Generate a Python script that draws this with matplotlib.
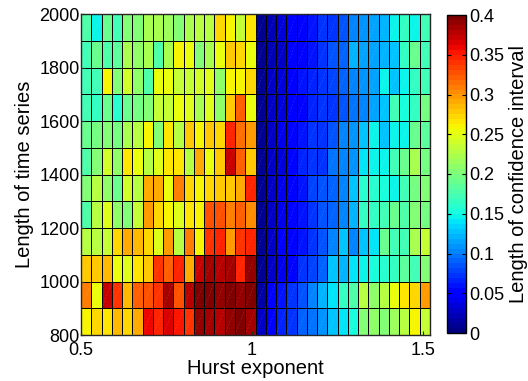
import numpy as np
import matplotlib
matplotlib.use("Agg")
import matplotlib.pyplot as plt
from matplotlib.collections import LineCollection

plt.rcParams['font.family'] = ['Liberation Sans', 'DejaVu Sans']

# Grid: Hurst exponent cell edges and series-length cell edges
hurst_edges = np.round(np.linspace(0.5, 1.52, 35), 2)
length_edges = np.arange(800, 2001, 100)

# Length of confidence interval, one row per series length (lower edge of the row)
ci_800 = [0.26, 0.27, 0.265, 0.285, 0.27, 0.29, 0.36, 0.345, 0.365, 0.355, 0.34, 0.39, 0.385, 0.38, 0.39, 0.395, 0.385,
          0.025, 0.045, 0.065, 0.07, 0.09, 0.095, 0.11, 0.125, 0.14, 0.155, 0.20, 0.21, 0.20, 0.215, 0.225, 0.26, 0.235]
ci_900 = [0.31, 0.25, 0.37, 0.34, 0.285, 0.32, 0.33, 0.34, 0.385, 0.325, 0.38, 0.395, 0.395, 0.39, 0.395, 0.39, 0.395,
          0.015, 0.045, 0.06, 0.07, 0.085, 0.10, 0.12, 0.14, 0.165, 0.18, 0.23, 0.21, 0.23, 0.25, 0.265, 0.27, 0.30]
ci_1000 = [0.275, 0.28, 0.285, 0.25, 0.245, 0.265, 0.275, 0.34, 0.32, 0.35, 0.29, 0.37, 0.385, 0.38, 0.385, 0.35, 0.39,
           0.01, 0.025, 0.04, 0.055, 0.07, 0.08, 0.09, 0.13, 0.12, 0.14, 0.15, 0.155, 0.16, 0.165, 0.185, 0.175, 0.20]
ci_1100 = [0.225, 0.23, 0.235, 0.27, 0.29, 0.285, 0.27, 0.245, 0.295, 0.23, 0.31, 0.26, 0.34, 0.345, 0.295, 0.34, 0.35,
           0.01, 0.025, 0.045, 0.05, 0.06, 0.075, 0.085, 0.105, 0.13, 0.10, 0.13, 0.14, 0.19, 0.175, 0.17, 0.22, 0.235]
ci_1200 = [0.18, 0.23, 0.245, 0.21, 0.205, 0.235, 0.30, 0.27, 0.26, 0.245, 0.265, 0.26, 0.33, 0.33, 0.31, 0.32, 0.305,
           0.01, 0.025, 0.04, 0.05, 0.06, 0.075, 0.085, 0.09, 0.10, 0.12, 0.165, 0.165, 0.17, 0.19, 0.18, 0.20, 0.195]
ci_1300 = [0.20, 0.225, 0.21, 0.19, 0.24, 0.23, 0.29, 0.29, 0.25, 0.31, 0.27, 0.26, 0.27, 0.275, 0.28, 0.29, 0.345,
           0.01, 0.025, 0.04, 0.05, 0.06, 0.08, 0.085, 0.09, 0.10, 0.125, 0.16, 0.16, 0.155, 0.145, 0.17, 0.195, 0.20]
ci_1400 = [0.18, 0.20, 0.24, 0.21, 0.265, 0.25, 0.23, 0.245, 0.265, 0.265, 0.225, 0.29, 0.25, 0.275, 0.37, 0.32, 0.28,
           0.01, 0.03, 0.035, 0.055, 0.065, 0.07, 0.07, 0.095, 0.10, 0.11, 0.14, 0.15, 0.15, 0.17, 0.19, 0.22, 0.195]
ci_1500 = [0.19, 0.195, 0.20, 0.195, 0.22, 0.225, 0.26, 0.20, 0.265, 0.23, 0.275, 0.26, 0.28, 0.27, 0.35, 0.315, 0.30,
           0.01, 0.025, 0.04, 0.055, 0.06, 0.07, 0.075, 0.085, 0.10, 0.11, 0.125, 0.145, 0.125, 0.15, 0.145, 0.19, 0.185]
ci_1600 = [0.17, 0.165, 0.19, 0.16, 0.19, 0.195, 0.205, 0.235, 0.235, 0.25, 0.245, 0.22, 0.245, 0.21, 0.28, 0.32, 0.25,
           0.01, 0.025, 0.035, 0.045, 0.055, 0.065, 0.07, 0.075, 0.085, 0.095, 0.105, 0.115, 0.125, 0.175, 0.155, 0.165, 0.195]
ci_1700 = [0.17, 0.17, 0.26, 0.20, 0.24, 0.21, 0.18, 0.255, 0.25, 0.235, 0.235, 0.24, 0.245, 0.21, 0.26, 0.26, 0.27,
           0.01, 0.025, 0.035, 0.045, 0.06, 0.065, 0.07, 0.08, 0.09, 0.105, 0.11, 0.115, 0.145, 0.13, 0.15, 0.165, 0.17]
ci_1800 = [0.17, 0.19, 0.18, 0.185, 0.22, 0.21, 0.22, 0.18, 0.22, 0.26, 0.25, 0.20, 0.22, 0.25, 0.28, 0.27, 0.25,
           0.01, 0.02, 0.03, 0.045, 0.05, 0.06, 0.07, 0.085, 0.09, 0.12, 0.115, 0.115, 0.12, 0.13, 0.165, 0.19, 0.17]
ci_1900 = [0.18, 0.15, 0.19, 0.17, 0.20, 0.20, 0.22, 0.22, 0.215, 0.205, 0.22, 0.225, 0.23, 0.27, 0.26, 0.235, 0.265,
           0.01, 0.02, 0.035, 0.045, 0.055, 0.06, 0.07, 0.075, 0.085, 0.10, 0.11, 0.115, 0.12, 0.15, 0.165, 0.145, 0.17]

ci = np.array([ci_800, ci_900, ci_1000, ci_1100, ci_1200, ci_1300,
               ci_1400, ci_1500, ci_1600, ci_1700, ci_1800, ci_1900])

x_ticks = [0.5, 1.0, 1.5]
x_ticklabels = ['0.5', '1', '1.5']
y_ticks = [800, 1000, 1200, 1400, 1600, 1800, 2000]
cb_ticks = [0, 0.05, 0.1, 0.15, 0.2, 0.25, 0.3, 0.35, 0.4]
cb_ticklabels = ['0', '0.05', '0.1', '0.15', '0.2', '0.25', '0.3', '0.35', '0.4']

W, H = 528, 381
fig = plt.figure(figsize=(W / 100, H / 100), dpi=100)
ax = fig.add_axes([81 / W, 1 - 335 / H, (430 - 81) / W, (335 - 14) / H])
cax = fig.add_axes([447 / W, 1 - 333 / H, (466 - 447) / W, (333 - 15) / H])

cmap = plt.get_cmap('jet', 64)
X, Y = np.meshgrid(hurst_edges, length_edges)
mesh = ax.pcolormesh(X, Y, ci, cmap=cmap, vmin=0, vmax=0.4,
                     edgecolors='black', linewidth=0.65)

# faint diagonal of each facet
segs = []
for i in range(len(length_edges) - 1):
    for j in range(len(hurst_edges) - 1):
        segs.append([(hurst_edges[j], length_edges[i]),
                     (hurst_edges[j + 1], length_edges[i + 1])])
ax.add_collection(LineCollection(segs, colors='white', linewidths=0.4,
                                 alpha=0.2, linestyles=(0, (3, 3))))

ax.set_xlim(hurst_edges[0], hurst_edges[-1])
ax.set_ylim(length_edges[0], length_edges[-1])
ax.set_xticks(x_ticks)
ax.set_xticklabels(x_ticklabels)
ax.set_yticks(y_ticks)
ax.tick_params(direction='in', length=3, labelsize=13, colors='#262626',
               labelcolor='black', pad=1)
ax.tick_params(axis='x', pad=5)
for s in ax.spines.values():
    s.set_color('#262626')
    s.set_linewidth(1.0)
ax.set_xlabel('Hurst exponent', fontsize=14.5, labelpad=0)
ax.set_ylabel('Length of time series', fontsize=14.5, labelpad=4)

cb = fig.colorbar(mesh, cax=cax, ticks=cb_ticks)
cb.ax.set_yticklabels(cb_ticklabels)
cb.ax.tick_params(direction='in', length=3, labelsize=13, pad=2,
                  left=True, right=True)
cb.outline.set_linewidth(1.0)
cb.set_label('Length of confidence interval', fontsize=14.5, labelpad=4)

fig.savefig('out.png', dpi=100)
